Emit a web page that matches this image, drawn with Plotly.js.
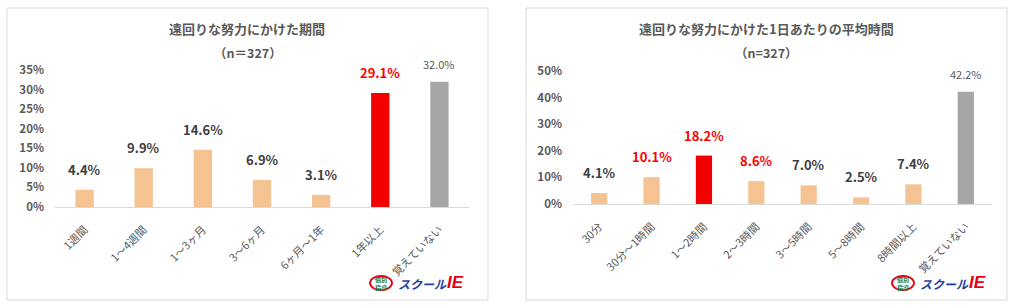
<!DOCTYPE html>
<html><head><meta charset="utf-8">
<script src="https://cdn.plot.ly/plotly-3.0.1.min.js"></script>
<style>html,body{margin:0;padding:0;background:#fff;}#chart{width:1015px;height:308px;}</style>
</head><body><div id="chart"></div>
<script>
// ---- data ----
const periodCats = ['1週間','1～4週間','1～3ヶ月','3～6ヶ月','6ヶ月～1年','1年以上','覚えていない'];
const periodVals = [4.4, 9.9, 14.6, 6.9, 3.1, 29.1, 32.0];
const periodTitle = '遠回りな努力にかけた期間';
const timeCats = ['30分','30分～1時間','1～2時間','2～3時間','3～5時間','5～8時間','8時間以上','覚えていない'];
const timeVals = [4.1, 10.1, 18.2, 8.6, 7.0, 2.5, 7.4, 42.2];
const timeTitle = '遠回りな努力にかけた1日あたりの平均時間';
const nLabelLeft = '（n＝327）';
const nLabelRight = '（n=327）';
const periodTicks = [0,5,10,15,20,25,30,35];
const timeTicks = [0,10,20,30,40,50];

// ---- styles ----
const PEACH = '#F5C392', RED = '#F20000', GRAY = '#A6A6A6';
const FONT = '"Noto Sans CJK JP", "Noto Sans", sans-serif';
const periodColors = periodCats.map((c,i)=> i===5 ? RED : (i===6 ? GRAY : PEACH));
const timeColors = timeCats.map((c,i)=> i===2 ? RED : (i===7 ? GRAY : PEACH));
const periodLabelCol = periodCats.map((c,i)=> i===5 ? '#FF0000' : '#404040');
const timeLabelCol = timeCats.map((c,i)=> (i===1||i===2||i===3) ? '#FF0000' : '#404040');

const traces = [
  {type:'bar', x:periodCats, y:periodVals, marker:{color:periodColors}, width:0.31, xaxis:'x', yaxis:'y', hoverinfo:'none'},
  {type:'bar', x:timeCats, y:timeVals, marker:{color:timeColors}, width:0.31, xaxis:'x2', yaxis:'y2', hoverinfo:'none'}
];

function labels(cats, vals, cols, xa, ya){
  return cats.map((c,i)=>{
    const plain = (i===cats.length-1);
    return {x:c, y:vals[i], xref:xa, yref:ya, text: plain ? vals[i].toFixed(1)+'%' : '<b>'+vals[i].toFixed(1)+'%</b>',
      showarrow:false, yanchor:'bottom', yshift: plain?8:9,
      font:{family:FONT, size: plain?11:13, color: plain ? '#595959' : cols[i]}};
  });
}

const axisCommon = {showgrid:false, zeroline:false, showline:false, fixedrange:true};
const xCommon = {showgrid:false, zeroline:false, showline:true, linecolor:'#D9D9D9', linewidth:1,
  ticks:'outside', ticklen:11, tickcolor:'rgba(0,0,0,0)',
  tickangle:-45, tickfont:{family:FONT, size:11, color:'#595959'}, type:'category'};
const yFont = {family:FONT, size:11.5, color:'#595959', weight:'bold'};

function logo(x0, y0){
  const px = v=>v/1015, py = v=>1-v/308;
  return {
    shapes:[{type:'circle', xref:'paper', yref:'paper', x0:px(x0), x1:px(x0+22), y0:py(y0+7), y1:py(y0-7), line:{color:'#E60012', width:1.8}, fillcolor:'rgba(0,0,0,0)'}],
    ann:[
      {xref:'paper', yref:'paper', x:px(x0+11), y:py(y0), text:'<b>個別<br>指導</b>', showarrow:false, xanchor:'center', yanchor:'middle', font:{family:FONT, size:6, color:'#1E7A34'}},
      {xref:'paper', yref:'paper', x:px(x0+26), y:py(y0), text:'<b><i>スクール</i></b>', showarrow:false, xanchor:'left', yanchor:'middle', font:{family:FONT, size:12, color:'#1F3FA8'}},
      {xref:'paper', yref:'paper', x:px(x0+75), y:py(y0-1), text:'<b><i>IE</i></b>', showarrow:false, xanchor:'left', yanchor:'middle', font:{family:'Liberation Sans, sans-serif', size:17, color:'#E60012'}}
    ]
  };
}
const L1 = logo(370, 283), L2 = logo(892, 283);

const layout = {
  width:1015, height:308, margin:{l:0,r:0,t:0,b:0}, showlegend:false,
  paper_bgcolor:'#fff', plot_bgcolor:'#fff', bargap:0.69,
  xaxis: Object.assign({}, xCommon, {domain:[55/1015, 469/1015], anchor:'y'}),
  yaxis: Object.assign({}, axisCommon, {domain:[1-207/308, 1-70/308], range:[0,35], tickvals:periodTicks, ticktext:periodTicks.map(v=>v+'%'), tickfont:yFont, anchor:'x', ticklabelstandoff:10}),
  xaxis2: Object.assign({}, xCommon, {domain:[573/1015, 992/1015], anchor:'y2'}),
  yaxis2: Object.assign({}, axisCommon, {domain:[1-204/308, 1-71/308], range:[0,50], tickvals:timeTicks, ticktext:timeTicks.map(v=>v+'%'), tickfont:yFont, anchor:'x2', ticklabelstandoff:10}),
  shapes: [
    {type:'rect', xref:'paper', yref:'paper', x0:7/1015, x1:488/1015, y0:1-300/308, y1:1-8/308, line:{color:'#D9D9D9', width:1}},
    {type:'rect', xref:'paper', yref:'paper', x0:526/1015, x1:1007/1015, y0:1-300/308, y1:1-8/308, line:{color:'#D9D9D9', width:1}}
  ].concat(L1.shapes, L2.shapes),
  annotations: [
    {xref:'paper', yref:'paper', x:247/1015, y:1-29/308, text:'<b>'+periodTitle+'</b>', showarrow:false, xanchor:'center', yanchor:'middle', font:{family:FONT, size:13, color:'#595959'}},
    {xref:'paper', yref:'paper', x:248/1015, y:1-53/308, text:'<b>'+nLabelLeft+'</b>', showarrow:false, xanchor:'center', yanchor:'middle', font:{family:FONT, size:12.5, color:'#595959'}},
    {xref:'paper', yref:'paper', x:766/1015, y:1-29/308, text:'<b>'+timeTitle+'</b>', showarrow:false, xanchor:'center', yanchor:'middle', font:{family:FONT, size:13, color:'#595959'}},
    {xref:'paper', yref:'paper', x:766/1015, y:1-53/308, text:'<b>'+nLabelRight+'</b>', showarrow:false, xanchor:'center', yanchor:'middle', font:{family:FONT, size:12.5, color:'#595959'}}
  ].concat(labels(periodCats, periodVals, periodLabelCol, 'x', 'y'), labels(timeCats, timeVals, timeLabelCol, 'x2', 'y2'), L1.ann, L2.ann)
};

Plotly.newPlot('chart', traces, layout, {displayModeBar:false, staticPlot:true});
</script></body></html>
